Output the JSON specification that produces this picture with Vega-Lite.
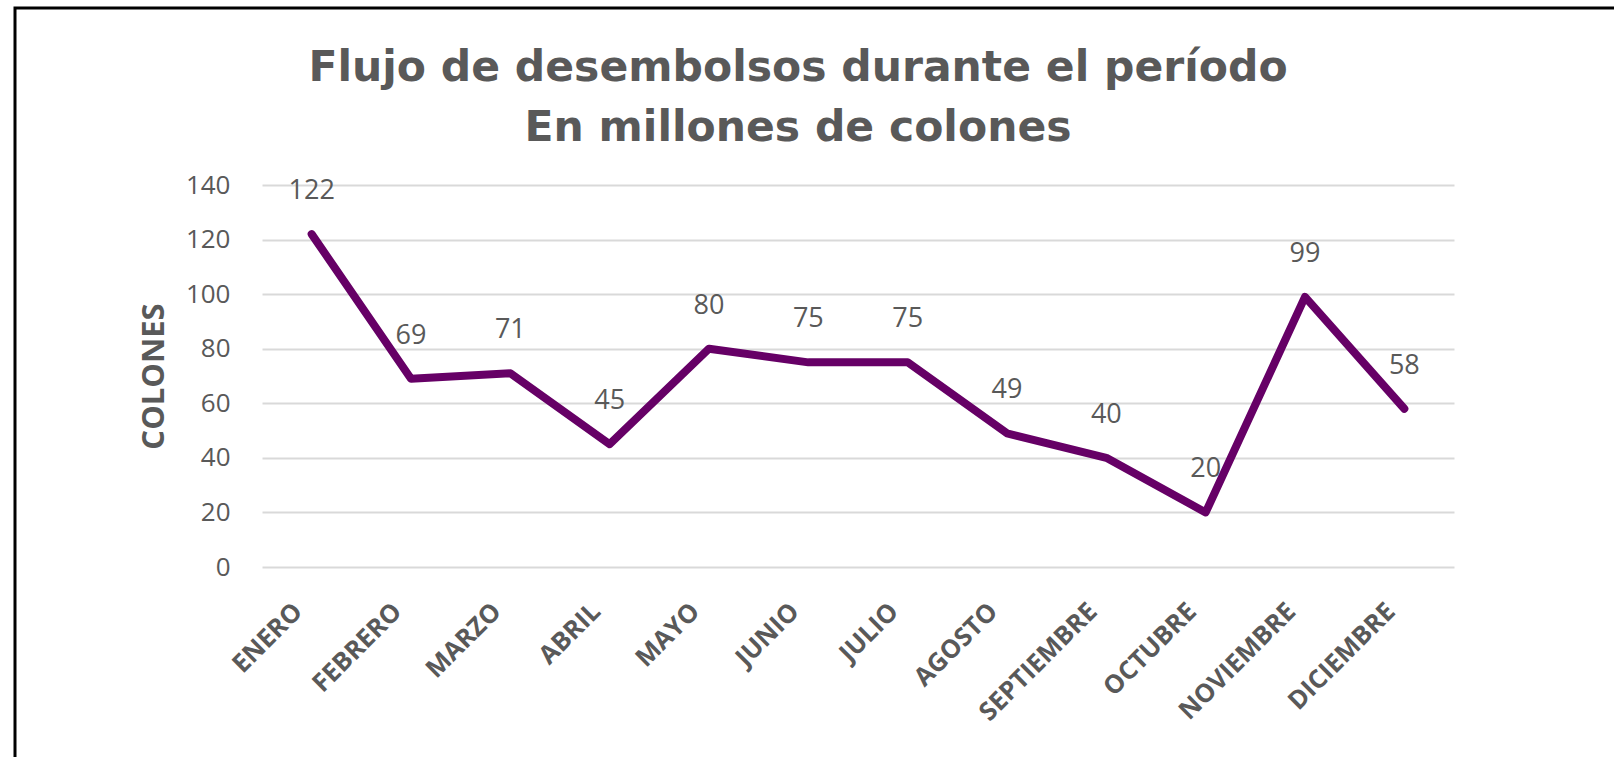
{
  "$schema": "https://vega.github.io/schema/vega-lite/v6.json",
  "width": 1610,
  "height": 760,
  "autosize": {"type": "none"},
  "padding": {"left": 15, "top": 8, "right": -11, "bottom": -11},
  "background": "white",
  "view": {"stroke": "black", "strokeWidth": 3, "fill": "white"},
  "title": {
    "text": ["Flujo de desembolsos durante el período", "En millones de colones"],
    "font": "DejaVu Sans",
    "fontWeight": "bold",
    "fontSize": 42.5,
    "color": "#595959",
    "anchor": "middle",
    "frame": "group",
    "offset": -184,
    "baseline": "bottom",
    "lineHeight": 60,
    "dx": -22
  },
  "data": {
    "values": [
      {"mes": "ENERO", "valor": 122},
      {"mes": "FEBRERO", "valor": 69},
      {"mes": "MARZO", "valor": 71},
      {"mes": "ABRIL", "valor": 45},
      {"mes": "MAYO", "valor": 80},
      {"mes": "JUNIO", "valor": 75},
      {"mes": "JULIO", "valor": 75},
      {"mes": "AGOSTO", "valor": 49},
      {"mes": "SEPTIEMBRE", "valor": 40},
      {"mes": "OCTUBRE", "valor": 20},
      {"mes": "NOVIEMBRE", "valor": 99},
      {"mes": "DICIEMBRE", "valor": 58}
    ]
  },
  "encoding": {
    "x": {
      "field": "mes",
      "type": "ordinal",
      "sort": null,
      "scale": {"type": "point", "padding": 0.5, "range": [247, 1439]},
      "axis": {
        "title": null,
        "offset": -201,
        "domain": false,
        "ticks": false,
        "tickSize": 0,
        "grid": false,
        "labelAngle": -45,
        "labelAlign": "right",
        "labelBaseline": "middle",
        "labelPadding": 40,
        "labelOffset": -14,
        "labelFont": "Open Sans",
        "labelFontWeight": "bold",
        "labelFontSize": 25.5,
        "labelColor": "#595959"
      }
    },
    "y": {
      "field": "valor",
      "type": "quantitative",
      "scale": {"domain": [0, 140], "range": [559, 177], "nice": false, "zero": true},
      "axis": {
        "title": "COLONES",
        "titleFont": "Open Sans",
        "titleFontWeight": "bold",
        "titleFontSize": 31,
        "titleColor": "#595959",
        "titleAngle": -90,
        "titleAlign": "center",
        "titleBaseline": "middle",
        "titleX": -107.5,
        "titleY": 368,
        "offset": -247,
        "domain": false,
        "ticks": false,
        "tickSize": 0,
        "values": [0, 20, 40, 60, 80, 100, 120, 140],
        "labelPadding": 32,
        "labelFont": "Open Sans",
        "labelFontSize": 26,
        "labelColor": "#595959",
        "grid": true,
        "gridColor": "#d9d9d9",
        "gridWidth": 2
      }
    }
  },
  "layer": [
    {
      "mark": {"type": "line", "color": "#660066", "strokeWidth": 8, "strokeCap": "round", "strokeJoin": "round"}
    },
    {
      "mark": {"type": "text", "dy": -43, "baseline": "middle", "align": "center", "font": "Open Sans", "fontSize": 27, "color": "#595959"},
      "encoding": {"text": {"field": "valor", "type": "quantitative"}}
    }
  ]
}
